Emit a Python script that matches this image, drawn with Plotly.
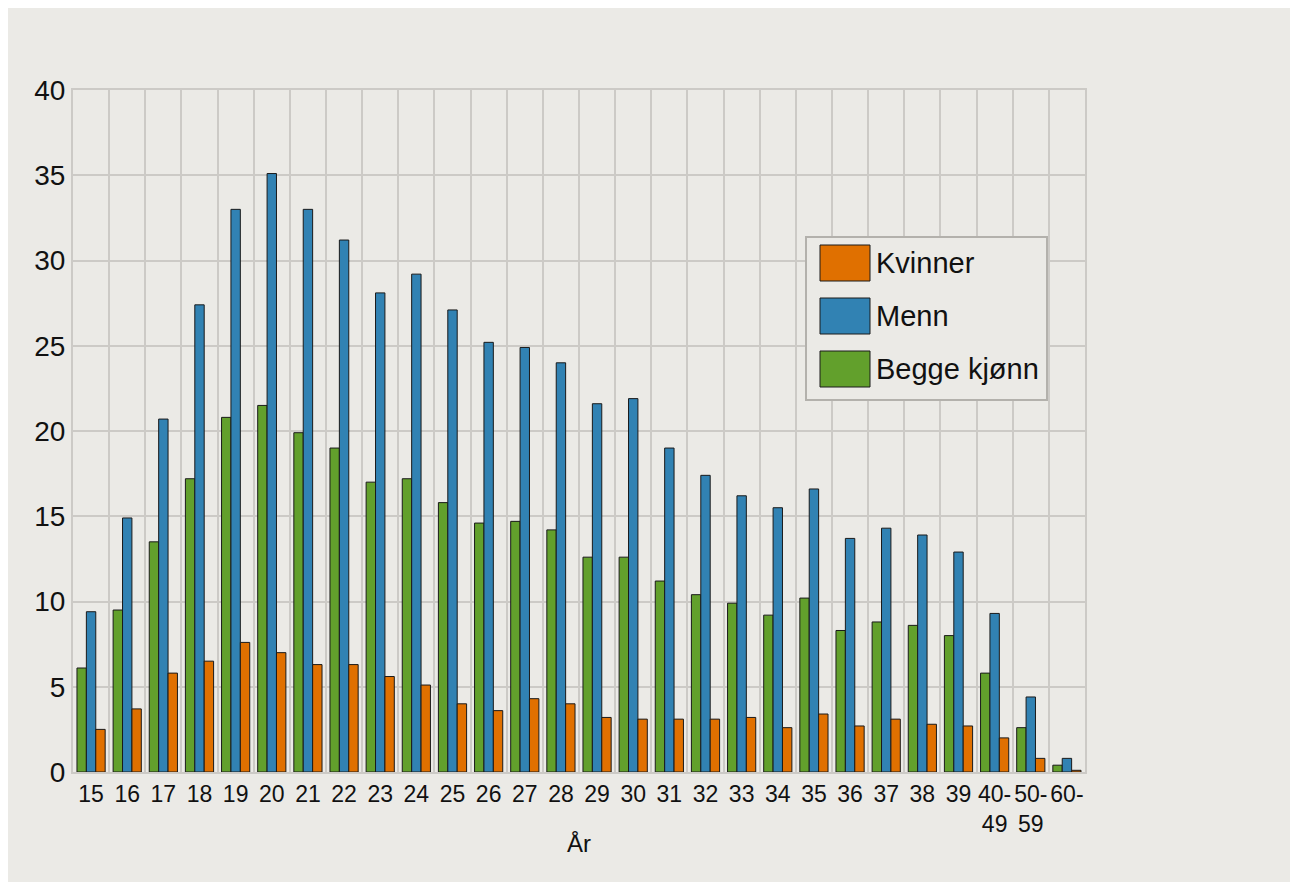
import plotly.graph_objects as go

categories = [str(a) for a in range(15, 40)] + ["40-<br>49", "50-<br>59", "60-"]

begge = [6.1, 9.5, 13.5, 17.2, 20.8, 21.5, 19.9, 19.0, 17.0, 17.2, 15.8, 14.6, 14.7, 14.2,
         12.6, 12.6, 11.2, 10.4, 9.9, 9.2, 10.2, 8.3, 8.8, 8.6, 8.0, 5.8, 2.6, 0.4]
menn = [9.4, 14.9, 20.7, 27.4, 33.0, 35.1, 33.0, 31.2, 28.1, 29.2, 27.1, 25.2, 24.9, 24.0,
        21.6, 21.9, 19.0, 17.4, 16.2, 15.5, 16.6, 13.7, 14.3, 13.9, 12.9, 9.3, 4.4, 0.8]
kvinner = [2.5, 3.7, 5.8, 6.5, 7.6, 7.0, 6.3, 6.3, 5.6, 5.1, 4.0, 3.6, 4.3, 4.0,
           3.2, 3.1, 3.1, 3.1, 3.2, 2.6, 3.4, 2.7, 3.1, 2.8, 2.7, 2.0, 0.8, 0.1]

series_names = ["Begge kjønn", "Menn", "Kvinner"]
series_values = [begge, menn, kvinner]
series_colors = ["#62A02C", "#3182B3", "#E07000"]
legend_order = ["Kvinner", "Menn", "Begge kjønn"]

x = list(range(len(categories)))
BG = "#EBEAE6"
GRID = "#CCCAC6"
FONT = "Liberation Sans, Arial, sans-serif"
OUTLINE = "#1a1a1a"

fig = go.Figure()
for name, vals, color in zip(series_names, series_values, series_colors):
    fig.add_trace(go.Bar(
        x=x, y=vals, name=name,
        marker=dict(color=color, line=dict(color=OUTLINE, width=1)),
    ))

W, H = 1298, 882
OFF = 8  # page body margin
PL, PR, PT, PB = 73, 1085, 90, 772  # plot area in screen pixels
ml = PL - OFF
mt = PT - OFF
pw = PR - PL
ph = PB - PT
mr = W - ml - pw
mb = H - mt - ph


def px(sx):
    return (sx - PL) / pw


def py(sy):
    return (PB - sy) / ph


# custom legend (large swatches like the original)
shapes = [dict(type="rect", xref="paper", yref="paper",
               x0=px(806), x1=px(1047), y0=py(400), y1=py(237),
               fillcolor=BG, line=dict(color="#B3B1AC", width=2), layer="above")]
annotations = []
row_tops = [245, 298, 351]
for name, top in zip(legend_order, row_tops):
    color = series_colors[series_names.index(name)]
    shapes.append(dict(type="rect", xref="paper", yref="paper",
                       x0=px(820), x1=px(870), y0=py(top + 36), y1=py(top),
                       fillcolor=color, line=dict(color=OUTLINE, width=1), layer="above"))
    annotations.append(dict(xref="paper", yref="paper", x=px(874), y=py(top + 18),
                            xanchor="left", yanchor="middle", text=name, showarrow=False,
                            font=dict(size=29, family=FONT, color="#111111")))

fig.update_layout(
    width=W, height=H,
    margin=dict(l=ml, r=mr, t=mt, b=mb),
    paper_bgcolor=BG, plot_bgcolor=BG,
    font=dict(family=FONT, color="#111111"),
    barmode="group", bargap=0.22, bargroupgap=0,
    showlegend=False,
    xaxis=dict(
        range=[-0.5, len(categories) - 0.5],
        tickmode="array", tickvals=x, ticktext=categories,
        showgrid=False, ticks="", zeroline=False,
        tickfont=dict(size=23, family=FONT, color="#111111"),
        showline=True, mirror=True, linecolor=GRID, linewidth=2,
        minor=dict(tick0=0.5, dtick=1, showgrid=True, gridcolor=GRID, gridwidth=2, ticks=""),
        title=dict(text="År", font=dict(size=24, family=FONT, color="#111111"), standoff=0),
    ),
    yaxis=dict(
        range=[0, 40], dtick=5, showgrid=True, gridcolor=GRID, gridwidth=2,
        zeroline=False, ticks="",
        tickfont=dict(size=28, family=FONT, color="#111111"),
        showline=True, mirror=True, linecolor=GRID, linewidth=2,
    ),
    shapes=shapes,
    annotations=annotations,
)

fig.write_html("out.html")
